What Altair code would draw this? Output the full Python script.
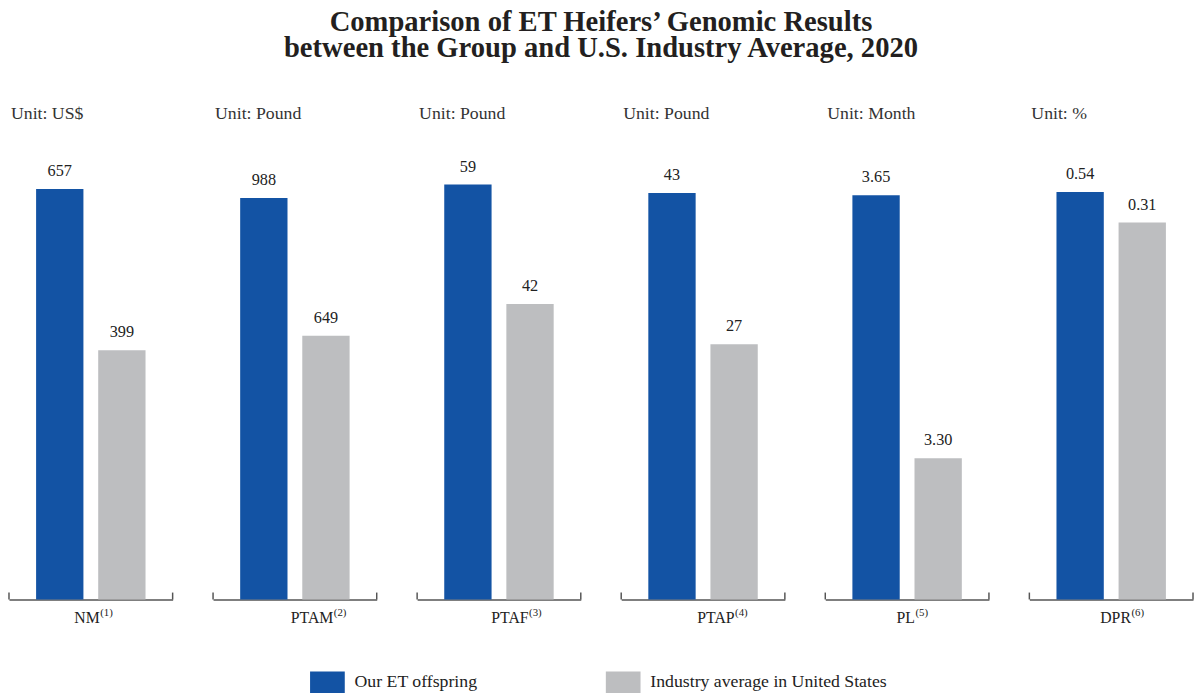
import altair as alt
import pandas as pd

# ---- data ----
metrics = ["NM", "PTAM", "PTAF", "PTAP", "PL", "DPR"]
notes = ["(1)", "(2)", "(3)", "(4)", "(5)", "(6)"]
units = ["Unit: US$", "Unit: Pound", "Unit: Pound", "Unit: Pound", "Unit: Month", "Unit: %"]
our_et = [657, 988, 59, 43, 3.65, 0.54]
industry = [399, 649, 42, 27, 3.30, 0.31]
decimals = [0, 0, 0, 0, 2, 2]
series = ["Our ET offspring", "Industry average in United States"]

# ---- per-panel scale domains (each panel has its own axis scale) ----
y_domains = [[0, 664.4], [0, 1021.2], [0, 59.0], [0, 43.91], [3.112, 3.6645], [-2.526, 0.597]]

# ---- layout / style ----
colors = ["#1353A4", "#BDBEC0"]
W, H = 166, 421
SERIF = "Liberation Serif"
AXIS_COLOR = "#555555"
TEXT_COLOR = "#222222"
label_join = [9, 39, 30, 32, 8, 20]   # x of the join between name and note, from panel centre

panels = []
for i in range(len(metrics)):
    df = pd.DataFrame({
        "series": series,
        "value": [our_et[i], industry[i]],
        "label": [f"{our_et[i]:.{decimals[i]}f}", f"{industry[i]:.{decimals[i]}f}"],
    })
    base = alt.Chart(df).encode(
        x=alt.X(
            "series:N", sort=series,
            scale=alt.Scale(domain=series, paddingInner=0.238, paddingOuter=0.4365),
            axis=alt.Axis(labels=False, ticks=False, domain=True, domainColor=AXIS_COLOR,
                          domainWidth=1.5, title=None),
        ),
        y=alt.Y("value:Q", scale=alt.Scale(domain=y_domains[i], zero=False, nice=False), axis=None),
    )
    bars = base.mark_bar().encode(
        y2=alt.datum(y_domains[i][0]),
        color=alt.Color(
            "series:N", sort=series,
            scale=alt.Scale(domain=series, range=colors),
            legend=alt.Legend(
                title=None, orient="none", legendX=312, legendY=494, direction="horizontal",
                symbolType="M-1.6,-1H1.6V1H-1.6Z", symbolSize=484, symbolStrokeWidth=0,
                symbolOpacity=1, labelFont=SERIF, labelFontSize=18, labelColor=TEXT_COLOR,
                labelOffset=16.5, columnPadding=129, labelLimit=400,
            ),
        ),
    )
    text = base.mark_text(font=SERIF, fontSize=16.5, dy=-13, baseline="alphabetic",
                          color=TEXT_COLOR).encode(text="label:N")

    one = alt.Data(values=[{"name": metrics[i], "note": notes[i], "unit": units[i]}])
    left_tick = alt.Chart(one).mark_rule(color=AXIS_COLOR, strokeWidth=1.5).encode(
        x=alt.value(0), y=alt.value(H - 7), y2=alt.value(H))
    right_tick = alt.Chart(one).mark_rule(color=AXIS_COLOR, strokeWidth=1.5).encode(
        x=alt.value(W), y=alt.value(H - 7), y2=alt.value(H))
    name = alt.Chart(one).mark_text(font=SERIF, fontSize=16, align="right", baseline="alphabetic",
                                    color=TEXT_COLOR).encode(
        x=alt.value(W / 2 + label_join[i]), y=alt.value(H + 24), text="name:N")
    note = alt.Chart(one).mark_text(font=SERIF, fontSize=11, align="left", baseline="alphabetic",
                                    color=TEXT_COLOR).encode(
        x=alt.value(W / 2 + label_join[i] + 0.5), y=alt.value(H + 17), text="note:N")
    unit = alt.Chart(one).mark_text(font=SERIF, fontSize=18, align="left", baseline="alphabetic",
                                    color="#333333").encode(
        x=alt.value(2), y=alt.value(-66), text="unit:N")

    panel = alt.layer(bars, text, left_tick, right_tick, name, note, unit).properties(
        width=W, height=H)
    panels.append(panel)

chart = alt.hconcat(*panels, spacing=39).properties(
    padding={"top": -5, "left": 0, "right": 0, "bottom": 0},
    title=alt.TitleParams(
        "Comparison of ET Heifers’ Genomic Results",
        subtitle="between the Group and U.S. Industry Average, 2020",
        anchor="middle", font=SERIF, fontSize=29, fontWeight="bold", color="#231f20",
        subtitleFont=SERIF, subtitleFontSize=29, subtitleFontWeight="bold",
        subtitleColor="#231f20", subtitlePadding=-2, offset=43,
    ),
).configure_view(stroke=None)

chart.save("out.html", embed_options={"renderer": "svg", "actions": False})
